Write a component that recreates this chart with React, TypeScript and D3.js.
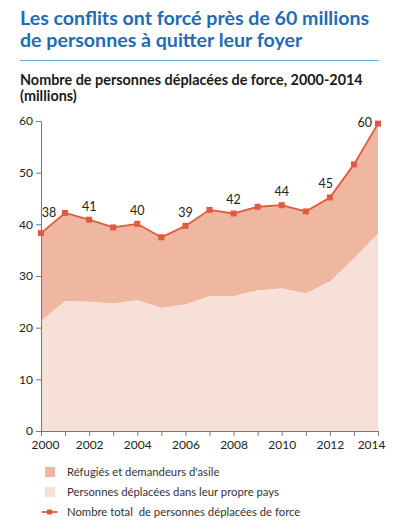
import React, { useEffect, useRef } from "react";
import * as d3 from "d3";

// data (millions)
const years = [2000, 2001, 2002, 2003, 2004, 2005, 2006, 2007, 2008, 2009, 2010, 2011, 2012, 2013, 2014];
const totalDisplaced = [38.3, 42.2, 40.9, 39.4, 40.1, 37.5, 39.7, 42.8, 42.1, 43.4, 43.7, 42.5, 45.2, 51.6, 59.5];
const internallyDisplaced = [21.3, 25.1, 25.0, 24.7, 25.3, 23.8, 24.5, 26.1, 26.1, 27.2, 27.6, 26.6, 28.9, 33.4, 38.2];
const labelYears = [2000, 2002, 2004, 2006, 2008, 2010, 2012, 2014];
const labelTexts = ["38", "41", "40", "39", "42", "44", "45", "60"];
const yTicks = [0, 10, 20, 30, 40, 50, 60];
const xTickLabels = [2000, 2002, 2004, 2006, 2008, 2010, 2012, 2014];

const title = ["Les conflits ont forcé près de 60 millions", "de personnes à quitter leur foyer"];
const subtitle = ["Nombre de personnes déplacées de force, 2000-2014", "(millions)"];
const legendLabels = [
  "Réfugiés et demandeurs d'asile",
  "Personnes déplacées dans leur propre pays",
  "Nombre total  de personnes déplacées de force",
];

const FONT = "Lato, 'Open Sans', sans-serif";
const BLUE = "#1f6cb4";
const RED = "#e05a3f";
const REFUGEE = "#efb6a0";
const IDP = "#f6e0d7";

export default function App() {
  const ref = useRef<SVGSVGElement>(null);

  useEffect(() => {
    const svg = d3.select(ref.current);
    svg.selectAll("*").remove();

    const margin = { top: 121, right: 20, bottom: 97, left: 41 };
    const W = 398, H = 528;
    const x = d3.scaleLinear().domain([2000, 2014]).range([margin.left, W - margin.right]);
    const y = d3.scaleLinear().domain([0, 60]).range([H - margin.bottom, margin.top]);

    // title block
    const t = svg.append("g").attr("font-family", FONT);
    title.forEach((s, i) =>
      t.append("text").attr("x", 20).attr("y", 25 + i * 22).attr("fill", BLUE)
        .attr("font-size", 19.6).attr("font-weight", 700).text(s)
    );
    t.append("line").attr("x1", 20).attr("x2", 379).attr("y1", 60.5).attr("y2", 60.5)
      .attr("stroke", "#6fa8da").attr("stroke-width", 1.2);
    subtitle.forEach((s, i) =>
      t.append("text").attr("x", 20).attr("y", 85 + i * 16).attr("fill", "#1a1a1a")
        .attr("font-size", 14.4).attr("font-weight", 700).text(s)
    );

    const rows = years.map((yr, i) => ({ yr, total: totalDisplaced[i], idp: internallyDisplaced[i] }));

    // areas
    const refugeeArea = d3.area<any>().x((d) => x(d.yr)).y0((d) => y(d.idp)).y1((d) => y(d.total));
    const idpArea = d3.area<any>().x((d) => x(d.yr)).y0(y(0)).y1((d) => y(d.idp));
    svg.append("path").datum(rows).attr("d", refugeeArea).attr("fill", REFUGEE);
    svg.append("path").datum(rows).attr("d", idpArea).attr("fill", IDP);

    // axes
    const yAxis = svg.append("g").attr("transform", `translate(${margin.left},0)`)
      .call(d3.axisLeft(y).tickValues(yTicks).tickSize(5).tickPadding(3));
    const xAxis = svg.append("g").attr("transform", `translate(0,${y(0)})`)
      .call(d3.axisBottom(x).tickValues(years).tickSize(5).tickPadding(4)
        .tickFormat((d: any) => (xTickLabels.includes(+d) ? String(d) : "")));
    [yAxis, xAxis].forEach((g) => {
      g.select(".domain").attr("stroke", "#777");
      g.selectAll(".tick line").attr("stroke", "#777");
      g.selectAll("text").attr("font-family", FONT).attr("font-size", 12).attr("fill", "#222");
    });
    xAxis.selectAll<SVGTextElement, number>(".tick text")
      .attr("text-anchor", (d) => (d === 2014 ? "end" : "middle"))
      .attr("dx", (d) => (d === 2014 ? 7 : d === 2000 ? 4 : 0));

    // total line
    const line = d3.line<any>().x((d) => x(d.yr)).y((d) => y(d.total));
    svg.append("path").datum(rows).attr("d", line).attr("fill", "none")
      .attr("stroke", RED).attr("stroke-width", 1.8);
    svg.selectAll(".pt").data(rows).join("rect").attr("class", "pt")
      .attr("x", (d) => x(d.yr) - 3).attr("y", (d) => y(d.total) - 3)
      .attr("width", 6).attr("height", 6).attr("fill", RED);

    // value labels
    svg.selectAll(".lbl").data(labelYears).join("text").attr("class", "lbl")
      .attr("x", (d) => x(d) + (d === 2000 ? 8 : d === 2012 ? -4 : d === 2014 ? -6 : 0))
      .attr("y", (d) => y(totalDisplaced[years.indexOf(d)]) + (d === 2000 ? -16 : d === 2014 ? 3 : -9))
      .attr("text-anchor", (d) => (d === 2014 ? "end" : "middle"))
      .attr("font-family", FONT).attr("font-size", 12.5).attr("fill", "#222")
      .text((d, i) => labelTexts[i]);

    // legend
    const lg = svg.append("g").attr("font-family", FONT).attr("font-size", 11.3).attr("fill", "#333");
    [REFUGEE, IDP].forEach((c, i) =>
      lg.append("rect").attr("x", 45).attr("y", 467 + i * 20).attr("width", 10).attr("height", 10).attr("fill", c)
    );
    lg.append("line").attr("x1", 41.5).attr("x2", 57.5).attr("y1", 512).attr("y2", 512)
      .attr("stroke", RED).attr("stroke-width", 1.8);
    lg.append("rect").attr("x", 47).attr("y", 509.5).attr("width", 5).attr("height", 5).attr("fill", RED);
    legendLabels.forEach((s, i) =>
      lg.append("text").attr("x", 67).attr("y", 476 + i * 20).style("white-space", "pre").text(s)
    );
  }, []);

  return (
    <svg ref={ref} width={398} height={528}
      style={{ position: "absolute", left: 0, top: 0, background: "#fff" }} />
  );
}
